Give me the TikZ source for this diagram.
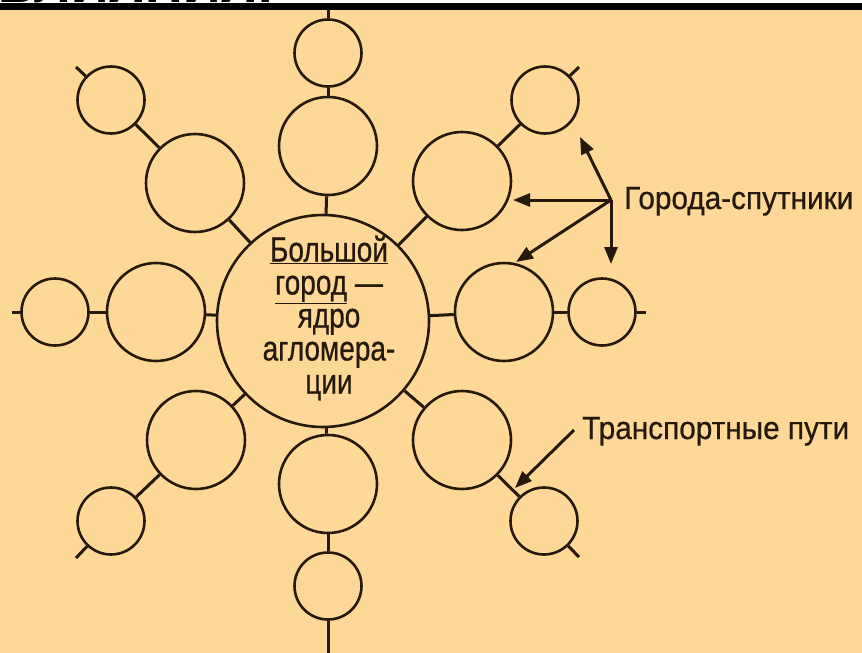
\documentclass[tikz,border=0pt]{standalone}
\usepackage{fontspec}
\setmainfont{Liberation Sans}
\newfontfamily\labelfont[FakeStretch=0.93, FakeBold=0.6]{Liberation Sans}
\newfontfamily\corefont[FakeStretch=0.8, FakeBold=0.6]{Liberation Sans}
\usetikzlibrary{arrows.meta}
\definecolor{sand}{RGB}{254,216,150}
\definecolor{ink}{RGB}{38,24,12}

\begin{document}
\begin{tikzpicture}[x=1pt, y=-1pt]
    \tikzstyle{core city}=[
        draw = ink,
        line width = 2.6pt,
        circle,
        inner sep = 0pt,
        minimum size = 212pt
    ]
    \tikzstyle{big town}=[
        draw = ink,
        line width = 2.6pt,
        circle,
        inner sep = 0pt,
        minimum size = 98pt
    ]
    \tikzstyle{small town}=[
        draw = ink,
        line width = 2.6pt,
        circle,
        inner sep = 0pt,
        minimum size = 67pt
    ]
    \tikzstyle{road}=[draw = ink, line width = 3pt]
    \tikzstyle{pointer}=[draw = ink, line width = 3pt, -{Triangle[length=17pt, width=13pt]}]
    \tikzstyle{caption}=[text = ink, inner sep = 0pt, font = \labelfont\fontsize{32}{33}\selectfont]

    \useasboundingbox (0, 0) rectangle (862, 653);
    \fill[white] (0, 0) rectangle (862, 3);
    \begin{scope}
        \clip (0, 0) rectangle (862, 3);
        \node[anchor=base west, inner sep=0pt, font=\bfseries\fontsize{52}{52}\selectfont] (heading) at (-2, 2.5) {ВЛИЯНИЯ.};
    \end{scope}
    \fill[black] (0, 3) rectangle (862, 9.5);
    \fill[sand] (0, 9.5) rectangle (862, 653);

	\node[core city]  (core) at (323, 321)  {};
	\node[big town]   (n)    at (328, 146)  {};
	\node[small town] (nn)   at (328, 53)   {};
	\node[big town]   (s)    at (328, 484)  {};
	\node[small town] (ss)   at (328, 586)  {};
	\node[big town]   (w)    at (156, 312)  {};
	\node[small town] (ww)   at (55, 312)   {};
	\node[big town]   (e)    at (504, 312)  {};
	\node[small town] (ee)   at (602, 312)  {};
	\node[big town]   (nw)   at (195, 183)  {};
	\node[small town] (nwnw) at (111, 100)  {};
	\node[big town]   (ne)   at (462, 181)  {};
	\node[small town] (nene) at (545, 100)  {};
	\node[big town]   (sw)   at (196, 440)  {};
	\node[small town] (swsw) at (111, 521)  {};
	\node[big town]   (se)   at (462, 440)  {};
	\node[small town] (sese) at (544, 521)  {};

	% road ends
	\coordinate (nnend)   at (328, 9);
	\coordinate (ssend)   at (328, 653);
	\coordinate (wwend)   at (12, 312);
	\coordinate (eeend)   at (646, 312);
	\coordinate (nwnwend) at (76, 67);
	\coordinate (neneend) at (579, 67);
	\coordinate (swswend) at (76, 558);
	\coordinate (seseend) at (579, 557);

	\node[text = ink, inner sep = 0pt, align = center,
	      font = \corefont\fontsize{35}{33}\selectfont] (coretext) at (329, 318)
	    {\underline{Большой}\\\underline{город}~—\\ядро\\агломера-\\ции};

	\path[road] (core) edge (n);
	\path[road] (n) edge (nn);
	\path[road] (nn) edge (nnend);
	\path[road] (core) edge (s);
	\path[road] (s) edge (ss);
	\path[road] (ss) edge (ssend);
	\path[road] (core) edge (w);
	\path[road] (w) edge (ww);
	\path[road] (ww) edge (wwend);
	\path[road] (core) edge (e);
	\path[road] (e) edge (ee);
	\path[road] (ee) edge (eeend);
	\path[road] (core) edge (nw);
	\path[road] (nw) edge (nwnw);
	\path[road] (nwnw) edge (nwnwend);
	\path[road] (core) edge (ne);
	\path[road] (ne) edge (nene);
	\path[road] (nene) edge (neneend);
	\path[road] (core) edge (sw);
	\path[road] (sw) edge (swsw);
	\path[road] (swsw) edge (swswend);
	\path[road] (core) edge (se);
	\path[road] (se) edge (sese);
	\path[road] (sese) edge (seseend);

	\node[caption, anchor=base west] (satellites) at (624, 209) {Города-спутники};
	\node[caption, anchor=base west] (roads) at (582, 439) {Транспортные пути};

	\coordinate (hub)     at (611, 200);
	\coordinate (tipa)    at (580, 137);
	\coordinate (tipb)    at (513, 200);
	\coordinate (tipc)    at (516, 262);
	\coordinate (tipd)    at (611, 264);
	\coordinate (roadhub) at (574, 430);
	\coordinate (roadtip) at (515, 488);

	\draw[pointer] (hub) -- (tipa);
	\draw[pointer] (hub) -- (tipb);
	\draw[pointer] (hub) -- (tipc);
	\draw[pointer] (hub) -- (tipd);
	\draw[pointer] (roadhub) -- (roadtip);

\end{tikzpicture}
\end{document}
